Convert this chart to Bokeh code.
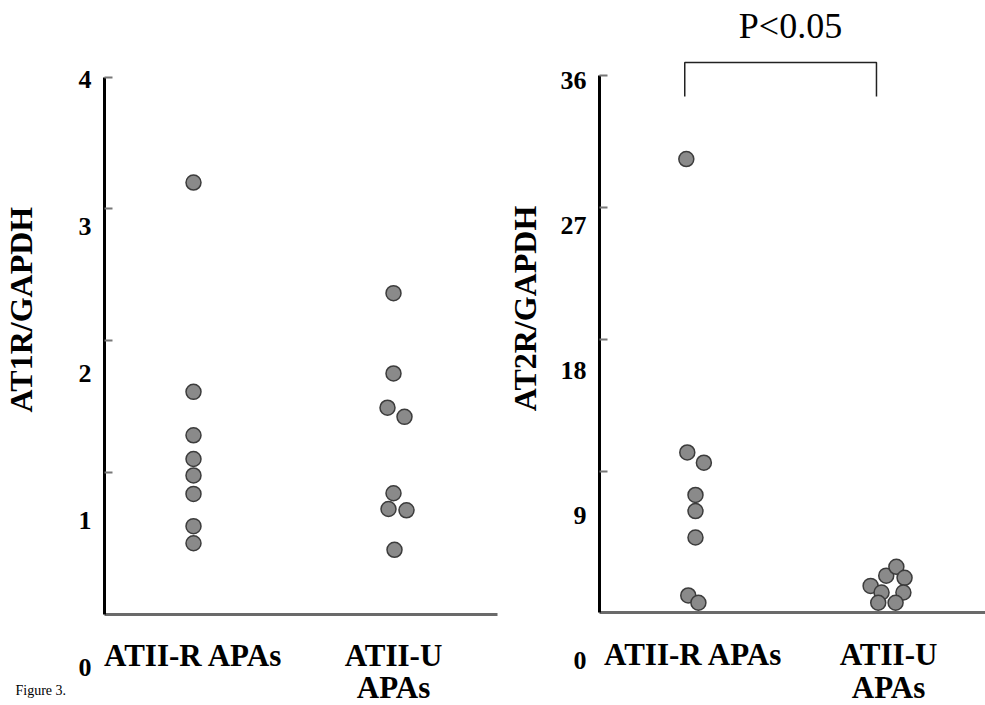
import math
from bokeh.plotting import figure
from bokeh.models import Range1d, LinearAxis, FixedTicker, Label
from bokeh.layouts import row
from bokeh.embed import file_html
from bokeh.resources import INLINE

# ---------------- data ----------------
categories = ["ATII-R APAs", "ATII-U APAs"]
cat_pos = [1, 2]
x_tick_labels = ["ATII-R APAs", "ATII-U"]
x_second_line = ["", "APAs"]

at1r_r = [3.20, 1.61, 1.28, 1.10, 0.975, 0.835, 0.59, 0.46]
at1r_u = [2.36, 1.75, 1.49, 1.42, 0.84, 0.72, 0.71, 0.41]
at2r_r = [30.3, 10.3, 9.6, 7.4, 6.3, 4.5, 0.55, 0.05]
at2r_u = [1.2, 1.9, 2.5, 1.75, 0.75, 0.75, 0.05, 0.05]

yticks_at1r = [1, 2, 3, 4]
yticks_at2r = [9, 18, 27, 36]
ylabels_at1r = [0, 1, 2, 3, 4]
ylabels_at2r = [0, 9, 18, 27, 36]
ytitle_at1r = "AT1R/GAPDH"
ytitle_at2r = "AT2R/GAPDH"
p_text = "P<0.05"
fig_caption = "Figure 3."

# horizontal jitter of the dots (layout only)
jit_at1r_r = [0, 0, 0, 0, 0, 0, 0, 0]
jit_at1r_u = [0, 0, -0.03, 0.055, 0, -0.025, 0.065, 0.005]
jit_at2r_r = [-0.037, -0.032, 0.053, 0.01, 0.01, 0.01, -0.027, 0.025]
jit_at2r_u = [-0.092, -0.012, 0.040, 0.082, -0.036, 0.076, -0.053, 0.036]

SERIF = "Liberation Serif"
H = 704


def make_panel(vals_r, vals_u, jit_r, jit_u, yticks, ylabels, ytitle, y_rng,
               axis_top, lab_rng, x_rng, frame_w, y_axis_x, x_axis_y,
               x_axis_end, title_xy, second_line_y):
    p = figure(frame_width=frame_w, frame_height=H,
               x_range=Range1d(*x_rng), y_range=Range1d(*y_rng),
               output_backend="svg", toolbar_location=None,
               min_border_left=0, min_border_right=0,
               min_border_top=0, min_border_bottom=0,
               title_location=None)
    p.outline_line_color = None
    p.xgrid.visible = False
    p.ygrid.visible = False
    p.background_fill_color = "white"
    p.border_fill_color = "white"

    # data-scale y axis: line + inward ticks
    ya = p.yaxis[0]
    ya.fixed_location = y_axis_x
    ya.ticker = FixedTicker(ticks=yticks)
    ya.bounds = (x_axis_y, axis_top)
    ya.major_label_overrides = {t: "" for t in yticks}
    ya.major_label_standoff = 0
    ya.axis_line_color = "black"
    ya.axis_line_width = 3
    ya.major_tick_in = 8
    ya.major_tick_out = 0
    ya.major_tick_line_color = "#777777"
    ya.major_tick_line_width = 2
    ya.minor_tick_line_color = None

    # label axis (tick labels placed as printed)
    p.extra_y_ranges = {"lab": Range1d(*lab_rng)}
    la = LinearAxis(y_range_name="lab", ticker=FixedTicker(ticks=ylabels),
                    fixed_location=y_axis_x)
    la.axis_line_color = None
    la.major_tick_line_color = None
    la.minor_tick_line_color = None
    la.major_tick_in = 0
    la.major_tick_out = 0
    la.major_label_text_font = SERIF
    la.major_label_text_font_size = "26px"
    la.major_label_text_font_style = "bold"
    la.major_label_text_color = "black"
    la.major_label_standoff = 13
    p.add_layout(la, "left")

    # x axis
    xa = p.xaxis[0]
    xa.fixed_location = x_axis_y
    xa.bounds = (y_axis_x, x_axis_end)
    xa.ticker = FixedTicker(ticks=cat_pos)
    xa.major_label_overrides = {c: t for c, t in zip(cat_pos, x_tick_labels)}
    xa.major_label_text_font = SERIF
    xa.major_label_text_font_size = "31px"
    xa.major_label_text_font_style = "bold"
    xa.major_label_text_color = "black"
    xa.major_label_standoff = 18
    xa.axis_line_color = "#6a6a6a"
    xa.axis_line_width = 3
    xa.major_tick_line_color = None
    xa.minor_tick_line_color = None

    # second line of the category labels
    for c, t in zip(cat_pos, x_second_line):
        if t:
            p.add_layout(Label(x=c, y=second_line_y, text=t, text_font=SERIF,
                               text_font_size="31px", text_font_style="bold",
                               text_color="black", text_align="center",
                               text_baseline="middle"))

    # y title
    p.add_layout(Label(x=title_xy[0], y=title_xy[1], text=ytitle, angle=math.pi / 2,
                       text_font=SERIF, text_font_size="32px",
                       text_font_style="bold", text_color="black",
                       text_align="center", text_baseline="middle"))

    p.scatter([cat_pos[0] + j for j in jit_r], vals_r, size=15,
              fill_color="#8a8a8a", line_color="#3c3c3c", line_width=1.5)
    p.scatter([cat_pos[1] + j for j in jit_u], vals_u, size=15,
              fill_color="#8a8a8a", line_color="#3c3c3c", line_width=1.5)
    return p


p1 = make_panel(at1r_r, at1r_u, jit_at1r_r, jit_at1r_u, yticks_at1r, ylabels_at1r,
                ytitle_at1r, y_rng=(-0.765, 4.583), axis_top=4,
                lab_rng=(-0.252, 4.537), x_rng=(0.035, 2.525), frame_w=498,
                y_axis_x=0.555, x_axis_y=-0.081, x_axis_end=2.52,
                title_xy=(0.135, 2.235), second_line_y=-0.636)
p1.add_layout(Label(x=0.11, y=-0.66, text=fig_caption, text_font=SERIF,
                    text_font_size="14px", text_color="black",
                    text_align="left", text_baseline="middle"))

p2 = make_panel(at2r_r, at2r_u, jit_at2r_r, jit_at2r_u, yticks_at2r, ylabels_at2r,
                ytitle_at2r, y_rng=(-6.886, 41.11), axis_top=36,
                lab_rng=(-2.717, 40.93), x_rng=(0.0, 2.497), frame_w=487,
                y_axis_x=0.518, x_axis_y=-0.614, x_axis_end=2.497,
                title_xy=(0.134, 20.11), second_line_y=-5.727)
# significance bracket
p2.line([cat_pos[0] - 0.045, cat_pos[0] - 0.045, cat_pos[1] - 0.062, cat_pos[1] - 0.062],
        [34.57, 36.89, 36.89, 34.57], line_color="#222222", line_width=1.5)
p2.add_layout(Label(x=1.497, y=39.34, text=p_text, text_font=SERIF,
                    text_font_size="36px", text_color="black",
                    text_align="center", text_baseline="middle"))

layout = row(p1, p2)
open("out.html", "w").write(file_html(layout, INLINE))
